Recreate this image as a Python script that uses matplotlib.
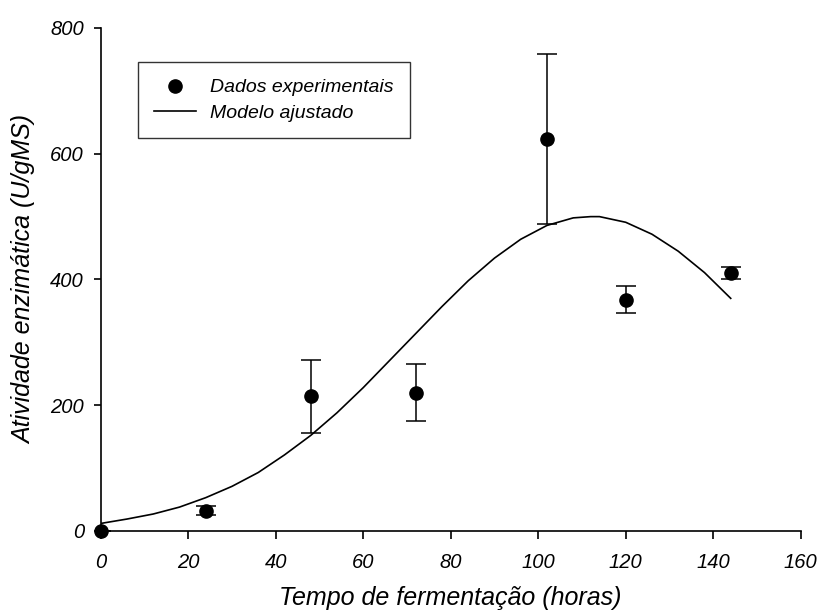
import matplotlib.pyplot as plt
import numpy as np

plt.rcParams['font.family'] = ['Liberation Sans', 'DejaVu Sans']
plt.rcParams['font.style'] = 'italic'

# Dados experimentais (media +- desvio)
tempo = [0, 24, 48, 72, 102, 120, 144]
atividade = [0, 32, 214, 220, 624, 368, 410]
desvio = [0, 7, 58, 45, 135, 22, 10]

# Modelo ajustado
tempo_mod = [0, 6, 12, 18, 24, 30, 36, 42, 48, 54, 60, 66, 72, 78, 84,
             90, 96, 102, 108, 112, 114, 120, 126, 132, 138, 144]
ativ_mod = [12, 19, 27, 38, 53, 71, 93, 121, 152, 188, 228, 271, 314, 357, 398,
            434, 464, 486, 498, 500, 500, 491, 472, 445, 411, 370]

fig = plt.figure(figsize=(8.21, 6.14), dpi=100)
ax = fig.add_axes([0.1227, 0.1352, 0.8526, 0.8192])

ax.errorbar(tempo, atividade, yerr=desvio, fmt='none', ecolor='black',
            elinewidth=1.1, capsize=7, capthick=1.1, zorder=2)
ax.plot(tempo, atividade, 'o', color='black', markersize=9.5,
        label='Dados experimentais', zorder=3, clip_on=False)
ax.plot(tempo_mod, ativ_mod, '-', color='black', linewidth=1.2,
        label='Modelo ajustado', zorder=2)

ax.set_xlim(0, 160)
ax.set_ylim(0, 800)
ax.set_xticks(np.arange(0, 161, 20))
ax.set_yticks(np.arange(0, 801, 200))

for s in ['top', 'right']:
    ax.spines[s].set_visible(False)
for s in ['left', 'bottom']:
    ax.spines[s].set_linewidth(1.2)

ax.tick_params(axis='x', direction='out', length=6, width=1.2, labelsize=14.5, pad=10)
ax.tick_params(axis='y', direction='out', length=5, width=1.2, labelsize=14.5, pad=7)

ax.set_xlabel('Tempo de fermentação (horas)', fontsize=18, labelpad=10)
ax.set_ylabel('Atividade enzimática (U/gMS)', fontsize=18, labelpad=10)

leg = ax.legend(loc='upper left', bbox_to_anchor=(0.053, 0.932), fontsize=14,
                frameon=True, fancybox=False, edgecolor='black',
                handlelength=2.15, borderpad=0.85, labelspacing=0.4,
                borderaxespad=0, handletextpad=0.72)
leg.get_frame().set_linewidth(1.0)

fig.savefig('out.png', dpi=100)
